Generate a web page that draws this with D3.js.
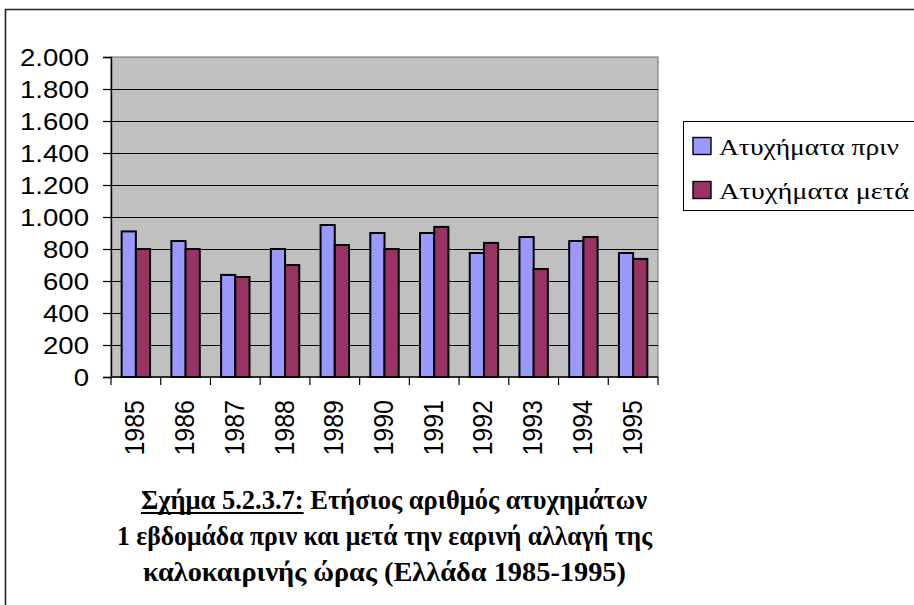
<!DOCTYPE html>
<html lang="el">
<head>
<meta charset="UTF-8">
<title>Σχήμα 5.2.3.7</title>
<script src="https://d3js.org/d3.v7.min.js"></script>
<style>
  body { margin: 0; background: #fff; }
  svg { display: block; }
  .serif { font-family: "Liberation Serif", "Times New Roman", Times, "DejaVu Serif", serif; }
  .sans { font-family: "Liberation Sans", Arial, "DejaVu Sans", sans-serif; }
</style>
</head>
<body>
<div id="chart"></div>
<script>
// data
var years = ["1985", "1986", "1987", "1988", "1989", "1990", "1991", "1992", "1993", "1994", "1995"];
var before = [910, 850, 638, 800, 950, 900, 900, 775, 875, 850, 775];
var after = [800, 800, 625, 700, 825, 800, 938, 838, 675, 875, 738];
var seriesNames = ["Ατυχήματα πριν", "Ατυχήματα μετά"];
var yTicks = [0, 200, 400, 600, 800, 1000, 1200, 1400, 1600, 1800, 2000];
var captionLines = ["Ετήσιος αριθμός ατυχημάτων",
  "1 εβδομάδα πριν και μετά την εαρινή αλλαγή της",
  "καλοκαιρινής ώρας (Ελλάδα 1985-1995)"];
var captionLabel = "Σχήμα 5.2.3.7:";

var W = 914, H = 605;
var plot = { left: 111, right: 658, top: 57, bottom: 377 };
var colors = ["#9999ff", "#993366"];

var svg = d3.select("#chart").append("svg")
  .attr("width", W).attr("height", H);

// outer frame (top and left edges are visible)
svg.append("path")
  .attr("d", "M5.5,605 L5.5,9.5 L914,9.5")
  .attr("fill", "none").attr("stroke", "#222").attr("stroke-width", 1.6);

var x0 = d3.scaleBand().domain(years).range([plot.left, plot.right]);
var x1 = d3.scaleBand().domain([0, 1]).range([0, x0.bandwidth()]).paddingOuter(0.75);
var y = d3.scaleLinear().domain([0, 2000]).range([plot.bottom, plot.top]);

var greek = d3.formatLocale({ decimal: ",", thousands: ".", grouping: [3], currency: ["", "€"] });
var fmt = greek.format(",");

// plot background
svg.append("rect")
  .attr("x", plot.left).attr("y", plot.top)
  .attr("width", plot.right - plot.left).attr("height", plot.bottom - plot.top)
  .attr("fill", "#c0c0c0").attr("stroke", "#808080").attr("stroke-width", 1.2);

// gridlines
svg.append("g").selectAll("line")
  .data(yTicks.filter(function(d) { return d > 0 && d < 2000; }))
  .enter().append("line")
  .attr("x1", plot.left).attr("x2", plot.right)
  .attr("y1", function(d) { return Math.round(y(d)) + 0.5; })
  .attr("y2", function(d) { return Math.round(y(d)) + 0.5; })
  .attr("stroke", "#000").attr("stroke-width", 1);

// bars
var groups = svg.append("g").selectAll("g")
  .data(years)
  .enter().append("g")
  .attr("transform", function(d) { return "translate(" + x0(d) + ",0)"; });

groups.selectAll("rect")
  .data(function(d, i) { return [before[i], after[i]]; })
  .enter().append("rect")
  .attr("x", function(d, j) { return x1(j); })
  .attr("y", function(d) { return y(d); })
  .attr("width", x1.bandwidth())
  .attr("height", function(d) { return plot.bottom - y(d); })
  .attr("fill", function(d, j) { return colors[j]; })
  .attr("stroke", "#000").attr("stroke-width", 2);

// y axis
var yAxis = svg.append("g")
  .attr("transform", "translate(" + plot.left + ",0)")
  .call(d3.axisLeft(y).tickValues(yTicks).tickFormat(fmt).tickSize(8).tickPadding(14));
yAxis.attr("font-family", null);
yAxis.select(".domain").attr("stroke", "#000").attr("stroke-width", 1.4);
yAxis.selectAll(".tick line").attr("stroke", "#000").attr("stroke-width", 1.2);
yAxis.selectAll(".tick text")
  .attr("class", "sans")
  .attr("font-size", 24.5)
  .attr("fill", "#000")
  .attr("x", null).attr("dy", null)
  .attr("dominant-baseline", "central")
  .attr("transform", "translate(-22,0) scale(1.125,1)");

// x axis: ticks between categories, labels rotated
var xg = svg.append("g");
xg.append("line")
  .attr("x1", plot.left).attr("x2", plot.right)
  .attr("y1", plot.bottom).attr("y2", plot.bottom)
  .attr("stroke", "#000").attr("stroke-width", 1.4);
xg.selectAll("line.tk")
  .data(years.map(function(d) { return x0(d); }).concat([plot.right]))
  .enter().append("line").attr("class", "tk")
  .attr("x1", function(d) { return d; }).attr("x2", function(d) { return d; })
  .attr("y1", plot.bottom).attr("y2", plot.bottom + 8)
  .attr("stroke", "#000").attr("stroke-width", 1.2);
xg.selectAll("text")
  .data(years)
  .enter().append("text")
  .attr("class", "sans")
  .attr("transform", function(d) {
    return "translate(" + (x0(d) + x0.bandwidth() / 2 - 1) + "," + (plot.bottom + 23) + ") scale(1.12,1) rotate(-90)";
  })
  .attr("text-anchor", "end")
  .attr("dominant-baseline", "central")
  .attr("font-size", 25)
  .attr("fill", "#000")
  .text(function(d) { return d; });

// legend
var lg = svg.append("g");
lg.append("rect")
  .attr("x", 683.5).attr("y", 121.5).attr("width", 240).attr("height", 89)
  .attr("fill", "#fff").attr("stroke", "#000").attr("stroke-width", 1);
var items = lg.selectAll("g.item")
  .data(seriesNames)
  .enter().append("g").attr("class", "item")
  .attr("transform", function(d, i) { return "translate(0," + (i * 44) + ")"; });
items.append("rect")
  .attr("x", 693).attr("y", 137.5).attr("width", 18).attr("height", 17)
  .attr("fill", function(d, i) { return colors[i]; })
  .attr("stroke", "#000").attr("stroke-width", 1.4);
items.append("text")
  .attr("class", "serif")
  .attr("x", 719).attr("y", 155)
  .attr("font-size", 23)
  .attr("fill", "#000")
  .attr("textLength", function(d, i) { return i === 0 ? 180 : 190; })
  .attr("lengthAdjust", "spacingAndGlyphs")
  .text(function(d) { return d; });

// caption
var cap = svg.append("g")
  .attr("class", "serif")
  .attr("font-weight", "bold")
  .attr("font-size", 27.5)
  .attr("fill", "#000");
var capLayout = [
  { x: 141, y: 509, w: 506 },
  { x: 117, y: 545, w: 535 },
  { x: 143, y: 581, w: 483 }
];
var t1 = cap.append("text")
  .attr("x", capLayout[0].x).attr("y", capLayout[0].y)
  .attr("textLength", capLayout[0].w).attr("lengthAdjust", "spacingAndGlyphs");
t1.append("tspan").text(captionLabel);
t1.append("tspan").text(" " + captionLines[0]);
[1, 2].forEach(function(i) {
  cap.append("text")
    .attr("x", capLayout[i].x).attr("y", capLayout[i].y)
    .attr("textLength", capLayout[i].w).attr("lengthAdjust", "spacingAndGlyphs")
    .text(captionLines[i]);
});

// underline under the figure label
var labelEnd = capLayout[0].x + 179;
try {
  var ext = t1.node().getExtentOfChar(captionLabel.length - 1);
  labelEnd = ext.x + ext.width;
} catch (e) {}
cap.append("line")
  .attr("x1", capLayout[0].x).attr("x2", labelEnd)
  .attr("y1", capLayout[0].y + 4).attr("y2", capLayout[0].y + 4)
  .attr("stroke", "#000").attr("stroke-width", 2);
</script>
</body>
</html>
